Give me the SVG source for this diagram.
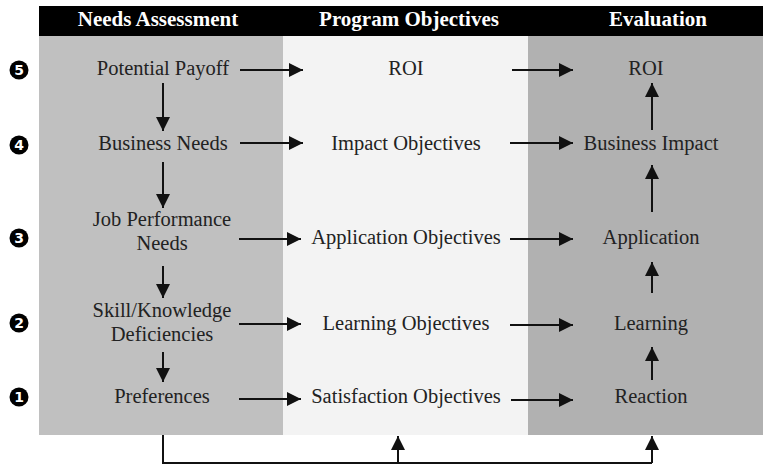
<svg xmlns="http://www.w3.org/2000/svg" width="763" height="466" viewBox="0 0 763 466">
  <style>
    .hdr { font-family: "Liberation Serif", "Times New Roman", serif; font-weight: bold; font-size: 21px; fill: #ffffff; text-anchor: middle; }
    .lbl { font-family: "Liberation Serif", "Times New Roman", serif; font-size: 20.5px; fill: #222222; text-anchor: middle; }
    .num { font-family: "DejaVu Sans", "Liberation Sans", sans-serif; font-weight: bold; font-size: 14px; fill: #ffffff; text-anchor: middle; }
    .conn { stroke: #111111; stroke-width: 2; fill: none; }
  </style>
  <defs>
    <marker id="arrow" markerUnits="userSpaceOnUse" markerWidth="16" markerHeight="14" refX="14" refY="7" orient="auto">
      <path d="M0,0 L14,7 L0,14 Z" fill="#111111"/>
    </marker>
  </defs>

  <!-- column backgrounds -->
  <g id="background">
    <rect x="39" y="36" width="244" height="399" fill="#c0c0c0"/>
    <rect x="283" y="36" width="245" height="399" fill="#f3f3f3"/>
    <rect x="528" y="36" width="235" height="399" fill="#b1b1b1"/>
    <rect x="39" y="6" width="724" height="30" fill="#000000"/>
  </g>

  <!-- column headings -->
  <g id="headers">
    <text class="hdr" x="158" y="26">Needs Assessment</text>
    <text class="hdr" x="409" y="26">Program Objectives</text>
    <text class="hdr" x="658" y="26">Evaluation</text>
  </g>

  <!-- level markers -->
  <g id="levels">
    <g id="level5"><circle cx="19" cy="70" r="9.5" fill="#000"/><text class="num" x="19" y="75">5</text></g>
    <g id="level4"><circle cx="19" cy="145" r="9.5" fill="#000"/><text class="num" x="19" y="150">4</text></g>
    <g id="level3"><circle cx="19" cy="238" r="9.5" fill="#000"/><text class="num" x="19" y="243">3</text></g>
    <g id="level2"><circle cx="19" cy="323" r="9.5" fill="#000"/><text class="num" x="19" y="328">2</text></g>
    <g id="level1"><circle cx="19" cy="397" r="9.5" fill="#000"/><text class="num" x="19" y="402">1</text></g>
  </g>

  <!-- needs assessment column -->
  <g id="potential-payoff"><text class="lbl" x="163" y="75">Potential Payoff</text></g>
  <g id="business-needs"><text class="lbl" x="163" y="150">Business Needs</text></g>
  <g id="job-performance-needs"><text class="lbl" x="162" y="226">Job Performance</text><text class="lbl" x="162" y="250">Needs</text></g>
  <g id="skill-knowledge-deficiencies"><text class="lbl" x="162" y="317">Skill/Knowledge</text><text class="lbl" x="162" y="341">Deficiencies</text></g>
  <g id="preferences"><text class="lbl" x="162" y="403">Preferences</text></g>

  <!-- program objectives column -->
  <g id="roi-objective"><text class="lbl" x="406" y="75">ROI</text></g>
  <g id="impact-objectives"><text class="lbl" x="406" y="150">Impact Objectives</text></g>
  <g id="application-objectives"><text class="lbl" x="406" y="244">Application Objectives</text></g>
  <g id="learning-objectives"><text class="lbl" x="406" y="330">Learning Objectives</text></g>
  <g id="satisfaction-objectives"><text class="lbl" x="406" y="403">Satisfaction Objectives</text></g>

  <!-- evaluation column -->
  <g id="roi-evaluation"><text class="lbl" x="646" y="75">ROI</text></g>
  <g id="business-impact"><text class="lbl" x="651" y="150">Business Impact</text></g>
  <g id="application"><text class="lbl" x="651" y="244">Application</text></g>
  <g id="learning"><text class="lbl" x="651" y="330">Learning</text></g>
  <g id="reaction"><text class="lbl" x="651" y="403">Reaction</text></g>

  <!-- connectors -->
  <g id="connectors">
    <!-- needs to objectives -->
    <line class="conn" x1="240" y1="70" x2="303" y2="70" marker-end="url(#arrow)"/>
    <line class="conn" x1="240" y1="143" x2="303" y2="143" marker-end="url(#arrow)"/>
    <line class="conn" x1="239" y1="239" x2="301" y2="239" marker-end="url(#arrow)"/>
    <line class="conn" x1="239" y1="324" x2="301" y2="324" marker-end="url(#arrow)"/>
    <line class="conn" x1="239" y1="399" x2="301" y2="399" marker-end="url(#arrow)"/>
    <!-- objectives to evaluation -->
    <line class="conn" x1="512" y1="70" x2="573" y2="70" marker-end="url(#arrow)"/>
    <line class="conn" x1="510" y1="143" x2="573" y2="143" marker-end="url(#arrow)"/>
    <line class="conn" x1="510" y1="239" x2="573" y2="239" marker-end="url(#arrow)"/>
    <line class="conn" x1="510" y1="325" x2="573" y2="325" marker-end="url(#arrow)"/>
    <line class="conn" x1="511" y1="400" x2="573" y2="400" marker-end="url(#arrow)"/>
    <!-- needs cascade -->
    <line class="conn" x1="163" y1="83" x2="163" y2="131" marker-end="url(#arrow)"/>
    <line class="conn" x1="163" y1="162" x2="163" y2="208" marker-end="url(#arrow)"/>
    <line class="conn" x1="163" y1="266" x2="163" y2="298" marker-end="url(#arrow)"/>
    <line class="conn" x1="163" y1="352" x2="163" y2="382" marker-end="url(#arrow)"/>
    <!-- evaluation chain -->
    <line class="conn" x1="652" y1="130" x2="652" y2="83" marker-end="url(#arrow)"/>
    <line class="conn" x1="652" y1="212" x2="652" y2="165" marker-end="url(#arrow)"/>
    <line class="conn" x1="652" y1="293" x2="652" y2="262" marker-end="url(#arrow)"/>
    <line class="conn" x1="652" y1="380" x2="652" y2="347" marker-end="url(#arrow)"/>
    <!-- feedback loop under the table -->
    <polyline class="conn" points="163,435 163,463 652,463"/>
    <line class="conn" x1="398" y1="463" x2="398" y2="436" marker-end="url(#arrow)"/>
    <line class="conn" x1="652" y1="463" x2="652" y2="436" marker-end="url(#arrow)"/>
  </g>
</svg>
